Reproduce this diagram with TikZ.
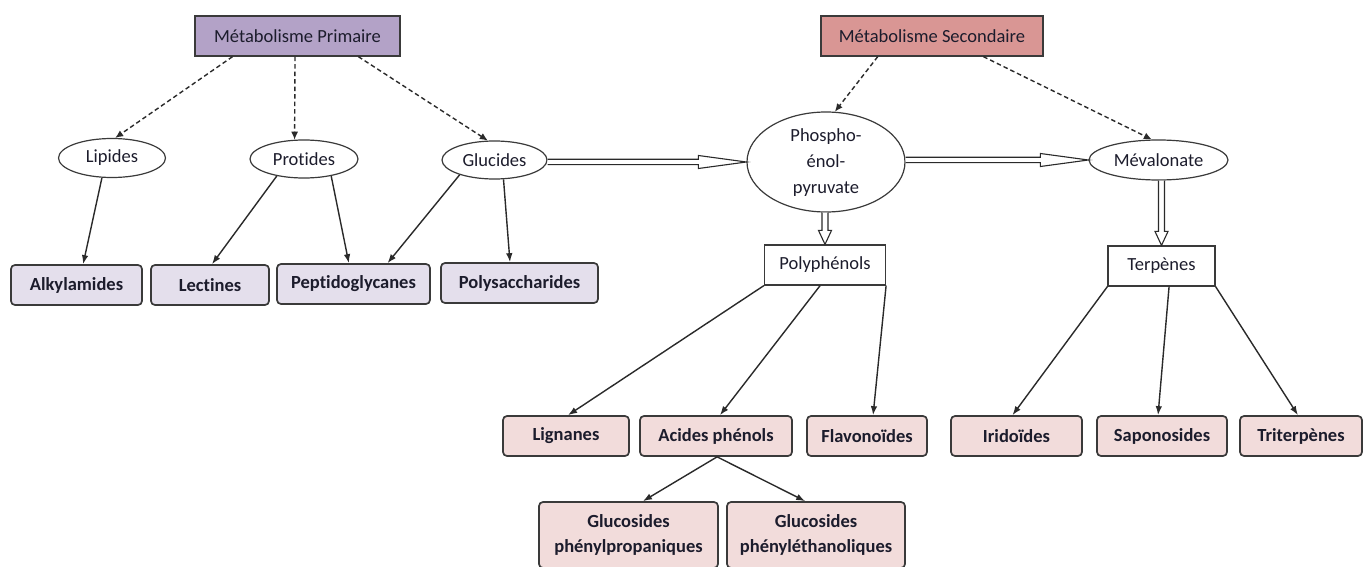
\documentclass[tikz,border=0pt]{standalone}
\usepackage{fontspec}
\setmainfont{Carlito}[Ligatures={NoCommon}]
\usetikzlibrary{shapes.geometric,arrows.meta,calc}
\definecolor{primfill}{HTML}{B3A2C7}
\definecolor{secfill}{HTML}{D99694}
\definecolor{leafa}{HTML}{E4DFEC}
\definecolor{leafb}{HTML}{F2DCDB}
\definecolor{bordc}{HTML}{3A3A3A}
\definecolor{txtc}{HTML}{1C1C2C}
\definecolor{linec}{HTML}{2A2A2A}
\newcommand\hollowH[2]{%
  \draw[hollowline] let \p1=(#1.east), \p2=(#2.west) in
    (\x1,\y2+2.7pt) -- (\x2-48pt,\y2+2.7pt) -- (\x2-48pt,\y2+6.5pt) -- (\x2,\y2)
    -- (\x2-48pt,\y2-6.5pt) -- (\x2-48pt,\y2-2.7pt) -- (\x1,\y2-2.7pt);}
\newcommand\hollowV[2]{%
  \draw[hollowline] let \p1=(#1.south), \p2=(#2.north) in
    (\x2-3pt,\y1) -- (\x2-3pt,\y2+14pt) -- (\x2-6.5pt,\y2+14pt) -- (\x2,\y2)
    -- (\x2+6.5pt,\y2+14pt) -- (\x2+3pt,\y2+14pt) -- (\x2+3pt,\y1);}
\tikzset{
  base/.style={inner sep=0pt, text=txtc, font=\fontsize{18.5}{25}\selectfont, align=center},
  mainbox/.style={base, draw=bordc, line width=1.3pt, minimum height=40pt},
  ellnode/.style={base, ellipse, draw=bordc, line width=1.2pt, fill=white},
  plainbox/.style={base, draw=bordc, line width=1.2pt, fill=white, minimum height=40pt},
  leafbox/.style={base, draw=bordc, line width=1.7pt, rounded corners=4pt, minimum height=40pt,
    font=\fontsize{18.5}{25}\selectfont\bfseries},
  leafA/.style={leafbox, fill=leafa},
  leafB/.style={leafbox, fill=leafb},
  dasharrow/.style={draw=linec, line width=1.4pt, dash pattern=on 4.5pt off 3pt,
    -{Latex[length=8pt,width=7pt]}},
  solidarrow/.style={draw=linec, line width=1.4pt, -{Latex[length=9pt,width=6.5pt]}},
  hollowline/.style={draw=linec, line width=1.1pt, fill=white, line join=miter},
}
\begin{document}
\begin{tikzpicture}[x=1pt,y=-1pt]
\fill[white] (0,0) rectangle (1366,567);
\useasboundingbox (0,0) rectangle (1366,567);

% top boxes
\node[mainbox, fill=primfill, minimum width=205pt] (prim) at (297.5,36) {Métabolisme Primaire};
\node[mainbox, fill=secfill, minimum width=222pt] (sec) at (932,36) {Métabolisme Secondaire};

% ellipses
\node[ellnode, minimum width=107pt, minimum height=39pt] (lip) at (112,158) {Lipides};
\node[ellnode, minimum width=108pt, minimum height=38pt] (pro) at (304,159) {Protides};
\node[ellnode, minimum width=105pt, minimum height=38pt] (glu) at (494.5,160) {Glucides};
\node[ellnode, minimum width=158pt, minimum height=100pt] (pep) at (826,162)
  {\smash{\raisebox{-5pt}{\fontsize{18.5}{26}\selectfont\begin{tabular}{@{}c@{}}Phospho-\\énol-\\pyruvate\end{tabular}}}};
\node[ellnode, minimum width=139pt, minimum height=40pt] (mev) at (1158.5,160) {Mévalonate};

% intermediate boxes
\node[plainbox, minimum width=121pt] (poly) at (825,265) {Polyphénols};
\node[plainbox, minimum width=107pt] (terp) at (1161.5,266) {Terpènes};

% leaves primary
\node[leafA, minimum width=131pt] (alk) at (76.5,285) {Alkylamides};
\node[leafA, minimum width=118pt] (lec) at (210,285) {Lectines};
\node[leafA, minimum width=153pt] (pepg) at (353.5,284) {Peptidoglycanes};
\node[leafA, minimum width=157pt] (polys) at (519.5,283) {Polysaccharides};

% leaves secondary
\node[leafB, minimum width=126pt] (lig) at (566,436) {Lignanes};
\node[leafB, minimum width=152pt] (acid) at (716,436) {Acides phénols};
\node[leafB, minimum width=120pt] (flav) at (867,436) {Flavonoïdes};
\node[leafB, minimum width=131pt] (iri) at (1016.5,436) {Iridoïdes};
\node[leafB, minimum width=130pt] (sap) at (1162,436) {Saponosides};
\node[leafB, minimum width=122pt] (tri) at (1301,436) {Triterpènes};
\node[leafB, minimum width=179pt, minimum height=66pt] (gpp) at (628.5,535) {Glucosides\\phénylpropaniques};
\node[leafB, minimum width=178pt, minimum height=66pt] (gpe) at (816,535) {Glucosides\\phényléthanoliques};

% dashed arrows
\draw[dasharrow] ($(prim.south west)!0.185!(prim.south east)$) -- (lip.81);
\draw[dasharrow] ($(prim.south west)!0.488!(prim.south east)$) -- (pro.116);
\draw[dasharrow] ($(prim.south west)!0.795!(prim.south east)$) -- (glu.109);
\draw[dasharrow] ($(sec.south west)!0.257!(sec.south east)$) -- (pep.80);
\draw[dasharrow] ($(sec.south west)!0.73!(sec.south east)$) -- (mev.108);

% solid arrows primary
\draw[solidarrow] (lip.-117.5) -- ($(alk.north west)!0.55!(alk.north east)$);
\draw[solidarrow] (pro.-148.6) -- ($(lec.north west)!0.517!(lec.north east)$);
\draw[solidarrow] (pro.-32.6) -- ($(pepg.north west)!0.47!(pepg.north east)$);
\draw[solidarrow] (glu.-157.5) -- ($(pepg.north west)!0.72!(pepg.north east)$);
\draw[solidarrow] (glu.-65.6) -- ($(polys.north west)!0.44!(polys.north east)$);

% solid arrows secondary
\draw[solidarrow] (poly.south west) -- ($(lig.north west)!0.516!(lig.north east)$);
\draw[solidarrow] ($(poly.south west)!0.46!(poly.south east)$) -- ($(acid.north west)!0.526!(acid.north east)$);
\draw[solidarrow] (poly.south east) -- ($(flav.north west)!0.55!(flav.north east)$);
\draw[solidarrow] (terp.south west) -- ($(iri.north west)!0.47!(iri.north east)$);
\draw[solidarrow] ($(terp.south west)!0.57!(terp.south east)$) -- ($(sap.north west)!0.47!(sap.north east)$);
\draw[solidarrow] (terp.south east) -- ($(tri.north west)!0.475!(tri.north east)$);
\draw[solidarrow] ($(acid.south west)!0.507!(acid.south east)$) -- ($(gpp.north west)!0.58!(gpp.north east)$);
\draw[solidarrow] ($(acid.south west)!0.507!(acid.south east)$) -- ($(gpe.north west)!0.44!(gpe.north east)$);

% hollow arrows
\hollowH{glu}{pep}
\hollowH{pep}{mev}
\hollowV{pep}{poly}
\hollowV{mev}{terp}
\end{tikzpicture}
\end{document}
